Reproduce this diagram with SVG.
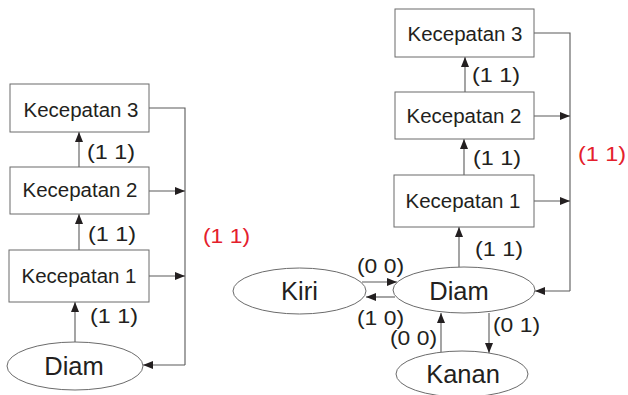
<svg xmlns="http://www.w3.org/2000/svg" width="628" height="395" viewBox="0 0 628 395">
  <style>
    .box { fill: #fff; stroke: #6b6b6b; stroke-width: 1; }
    .ell { fill: #fff; stroke: #6b6b6b; stroke-width: 1; }
    .lbl { font-family: "Liberation Sans", Arial, sans-serif; fill: #231f20; text-anchor: middle; }
    .kec { font-size: 19.5px; }
    .st { font-size: 25.5px; }
    .cond { font-family: "Liberation Sans", Arial, sans-serif; font-size: 20.5px; fill: #231f20; }
    .red { fill: #e4202c; }
    .ln { fill: none; stroke: #5a5a5a; stroke-width: 1.1; }
    .arr { marker-end: url(#ah); }
  </style>
  <defs>
    <marker id="ah" markerUnits="userSpaceOnUse" markerWidth="10" markerHeight="8" refX="10" refY="4" orient="auto">
      <path d="M0,0 L10,4 L0,8 Z" fill="#231f20"/>
    </marker>
  </defs>

  <rect width="628" height="395" fill="#fff"/>

  <!-- connectors -->
  <g id="connectors">
    <!-- left machine -->
    <path class="ln arr" d="M79,167 V132"/>
    <path class="ln arr" d="M79,250 V214"/>
    <path class="ln arr" d="M75,342 V302"/>
    <path class="ln" d="M149,108 H185 V365"/>
    <path class="ln arr" d="M149,191 H185"/>
    <path class="ln arr" d="M149,276 H185"/>
    <path class="ln arr" d="M185,365 H143"/>

    <!-- right machine -->
    <path class="ln arr" d="M465,92 V57"/>
    <path class="ln arr" d="M464,175 V139"/>
    <path class="ln arr" d="M459,267 V227"/>
    <path class="ln" d="M534,33 H570 V291"/>
    <path class="ln arr" d="M534,116 H570"/>
    <path class="ln arr" d="M534,201 H570"/>
    <path class="ln arr" d="M570,291 H535"/>
    <path class="ln arr" d="M362,282 H397"/>
    <path class="ln arr" d="M395,297 H366"/>
    <path class="ln arr" d="M441,352 V313"/>
    <path class="ln arr" d="M489,313 V353"/>
  </g>

  <!-- left machine nodes -->
  <g id="l-kec3">
    <rect class="box" x="10" y="84" width="139" height="48"/>
    <text class="lbl kec" x="81" y="117" textLength="115" lengthAdjust="spacingAndGlyphs">Kecepatan 3</text>
  </g>
  <g id="l-kec2">
    <rect class="box" x="10" y="167" width="139" height="47"/>
    <text class="lbl kec" x="80" y="197" textLength="115" lengthAdjust="spacingAndGlyphs">Kecepatan 2</text>
  </g>
  <g id="l-kec1">
    <rect class="box" x="9" y="250" width="140" height="52"/>
    <text class="lbl kec" x="79" y="283" textLength="115" lengthAdjust="spacingAndGlyphs">Kecepatan 1</text>
  </g>
  <g id="l-diam">
    <ellipse class="ell" cx="75" cy="366" rx="68" ry="24"/>
    <text class="lbl st" x="74" y="375">Diam</text>
  </g>

  <!-- right machine nodes -->
  <g id="r-kec3">
    <rect class="box" x="395" y="9" width="139" height="48"/>
    <text class="lbl kec" x="465" y="41" textLength="115" lengthAdjust="spacingAndGlyphs">Kecepatan 3</text>
  </g>
  <g id="r-kec2">
    <rect class="box" x="395" y="92" width="139" height="47"/>
    <text class="lbl kec" x="464" y="123" textLength="115" lengthAdjust="spacingAndGlyphs">Kecepatan 2</text>
  </g>
  <g id="r-kec1">
    <rect class="box" x="394" y="175" width="140" height="52"/>
    <text class="lbl kec" x="463" y="208" textLength="115" lengthAdjust="spacingAndGlyphs">Kecepatan 1</text>
  </g>
  <g id="r-kiri">
    <ellipse class="ell" cx="299.5" cy="291" rx="66.5" ry="23"/>
    <text class="lbl st" x="299.5" y="300">Kiri</text>
  </g>
  <g id="r-diam">
    <ellipse class="ell" cx="464" cy="290" rx="71" ry="23"/>
    <text class="lbl st" x="459" y="300">Diam</text>
  </g>
  <g id="r-kanan">
    <ellipse class="ell" cx="462" cy="374" rx="66" ry="23"/>
    <text class="lbl st" x="463" y="383">Kanan</text>
  </g>

  <!-- transition conditions -->
  <g id="conditions">
    <text class="cond" x="87" y="159" textLength="48" lengthAdjust="spacingAndGlyphs">(1 1)</text>
    <text class="cond" x="88" y="241" textLength="48" lengthAdjust="spacingAndGlyphs">(1 1)</text>
    <text class="cond" x="90" y="323" textLength="48" lengthAdjust="spacingAndGlyphs">(1 1)</text>
    <text class="cond red" x="203" y="243" textLength="47" lengthAdjust="spacingAndGlyphs">(1 1)</text>

    <text class="cond" x="472" y="82" textLength="48" lengthAdjust="spacingAndGlyphs">(1 1)</text>
    <text class="cond" x="473" y="165" textLength="48" lengthAdjust="spacingAndGlyphs">(1 1)</text>
    <text class="cond" x="475" y="256" textLength="48" lengthAdjust="spacingAndGlyphs">(1 1)</text>
    <text class="cond red" x="578" y="161" textLength="48" lengthAdjust="spacingAndGlyphs">(1 1)</text>

    <text class="cond" x="357" y="273" textLength="47" lengthAdjust="spacingAndGlyphs">(0 0)</text>
    <text class="cond" x="357" y="325" textLength="47" lengthAdjust="spacingAndGlyphs">(1 0)</text>
    <text class="cond" x="390" y="345" textLength="47" lengthAdjust="spacingAndGlyphs">(0 0)</text>
    <text class="cond" x="493" y="332" textLength="47" lengthAdjust="spacingAndGlyphs">(0 1)</text>
  </g>
</svg>
